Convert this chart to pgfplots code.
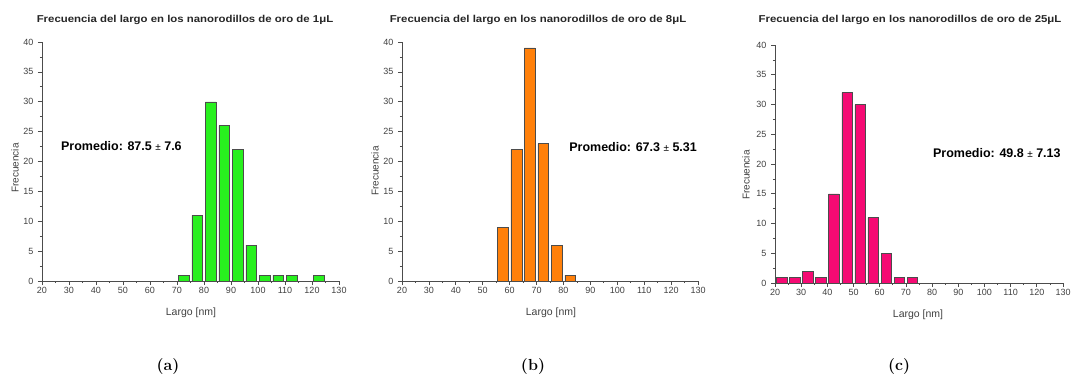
\documentclass[border=0pt]{standalone}
\usepackage{pgfplots}
\pgfplotsset{compat=1.18}
\usepackage{fontspec}
\newfontfamily\arial{Liberation Sans}
\definecolor{cgreen}{RGB}{40,240,30}
\definecolor{corange}{RGB}{255,128,10}
\definecolor{cpink}{RGB}{245,10,115}
\pgfplotsset{hist/.style={
  scale only axis, anchor=south west,
  xmin=20, xmax=130, ymin=0, ymax=40,
  axis x line*=bottom, axis y line*=left,
  xtick={20,30,...,130}, ytick={0,5,...,40},
  minor x tick num=1, minor y tick num=1,
  tick align=outside, major tick length=4pt, minor tick length=2.2pt,
  axis line style={-, black!70, line width=0.8pt},
  every tick/.style={black!70, line width=0.7pt},
  tick label style={font=\arial\fontsize{9}{10}\selectfont, text=black!75},
  yticklabel style={xshift=-1pt},
  /pgf/number format/assume math mode=true,
  xticklabel style={yshift=1pt},
  clip=false,
}}
\begin{document}
\begin{tikzpicture}[x=1pt,y=1pt]
\useasboundingbox (0pt,0pt) rectangle (1073pt,381pt);
% (a)
\begin{axis}[hist, at={(42pt,100pt)}, width=297pt, height=239pt]
\addplot[ybar, bar width=4, fill=cgreen, draw=black!70, line width=0.5pt] coordinates {
(72.5,1) (77.5,11) (82.5,30) (87.5,26) (92.5,22) (97.5,6) (102.5,1) (107.5,1) (112.5,1) (122.5,1)};
\node[anchor=west, font=\arial\bfseries\fontsize{12.5}{14}\selectfont, inner sep=0] at (axis cs:27,22.6) {Promedio: 87.5 {\mdseries\fontsize{10}{12}\selectfont ±} 7.6};
\end{axis}
% (b)
\begin{axis}[hist, at={(402pt,100pt)}, width=296pt, height=239pt]
\addplot[ybar, bar width=4, fill=corange, draw=black!70, line width=0.5pt] coordinates {
(57.5,9) (62.5,22) (67.5,39) (72.5,23) (77.5,6) (82.5,1)};
\node[anchor=west, font=\arial\bfseries\fontsize{12.5}{14}\selectfont, inner sep=0] at (axis cs:82.1,22.4) {Promedio: 67.3 {\mdseries\fontsize{10}{12}\selectfont ±} 5.31};
\end{axis}
% (c)
\begin{axis}[hist, at={(775pt,98pt)}, width=288pt, height=238pt]
\addplot[ybar, bar width=4, fill=cpink, draw=black!70, line width=0.5pt] coordinates {
(22.5,1) (27.5,1) (32.5,2) (37.5,1) (42.5,15) (47.5,32) (52.5,30) (57.5,11) (62.5,5) (67.5,1) (72.5,1)};
\node[anchor=west, font=\arial\bfseries\fontsize{12.5}{14}\selectfont, inner sep=0] at (axis cs:80.3,21.8) {Promedio: 49.8 {\mdseries\fontsize{10}{12}\selectfont ±} 7.13};
\end{axis}
% titles
\begin{scope}[every node/.style={font=\arial\bfseries\fontsize{10}{12}\selectfont, xscale=1.14, text=black!85}]
\node at (185pt,361pt) {Frecuencia del largo en los nanorodillos de oro de 1μL};
\node at (538pt,361pt) {Frecuencia del largo en los nanorodillos de oro de 8μL};
\node at (910pt,361pt) {Frecuencia del largo en los nanorodillos de oro de 25μL};
\end{scope}
% y labels
\begin{scope}[every node/.style={font=\arial\fontsize{10}{12}\selectfont, rotate=90, text=black!75}]
\node at (15pt,213pt) {Frecuencia};
\node at (375pt,210pt) {Frecuencia};
\node at (746pt,206pt) {Frecuencia};
\end{scope}
% x labels
\begin{scope}[every node/.style={font=\arial\fontsize{10.5}{12}\selectfont, text=black!75}]
\node at (191pt,68pt) {Largo [nm]};
\node at (551pt,68pt) {Largo [nm]};
\node at (918pt,66pt) {Largo [nm]};
\end{scope}
% captions
\begin{scope}[every node/.style={font=\fontsize{16}{19}\selectfont\bfseries}]
\node at (168pt,14pt) {\textbf{(a)}};
\node at (533pt,14pt) {\textbf{(b)}};
\node at (899pt,14pt) {\textbf{(c)}};
\end{scope}
\end{tikzpicture}
\end{document}
